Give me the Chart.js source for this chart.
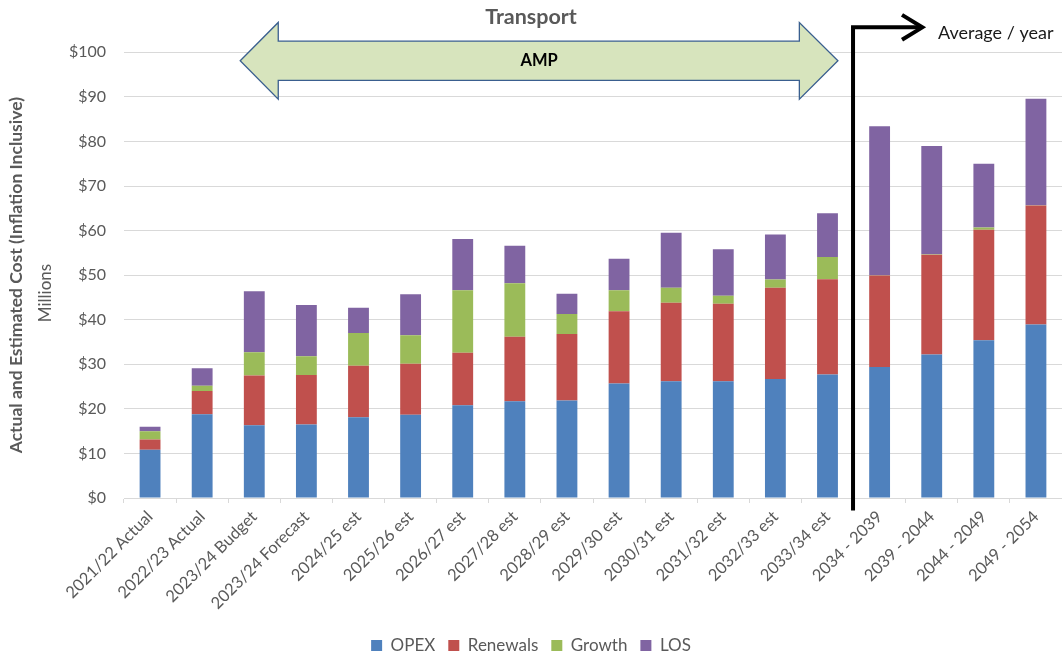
<!DOCTYPE html>
<html>
<head>
<meta charset="utf-8">
<script src="https://cdn.jsdelivr.net/npm/chart.js@4"></script>
<style>
  html, body { margin: 0; padding: 0; background: #ffffff; }
  #wrap { width: 1062px; height: 658px; position: relative; }
</style>
</head>
<body>
<div id="wrap"><canvas id="c" width="1062" height="658"></canvas></div>
<script>
const categories = [
  "2021/22 Actual", "2022/23 Actual", "2023/24 Budget", "2023/24 Forecast",
  "2024/25 est", "2025/26 est", "2026/27 est", "2027/28 est", "2028/29 est",
  "2029/30 est", "2030/31 est", "2031/32 est", "2032/33 est", "2033/34 est",
  "2034 - 2039", "2039 - 2044", "2044 - 2049", "2049 - 2054"
];
const opex     = [10.8, 18.8, 16.3, 16.5, 18.1, 18.7, 20.8, 21.7, 21.9, 25.7, 26.2, 26.2, 26.7, 27.7, 29.4, 32.2, 35.4, 38.9];
const renewals = [2.3, 5.2, 11.2, 11.1, 11.6, 11.4, 11.8, 14.5, 14.9, 16.2, 17.6, 17.4, 20.5, 21.4, 20.5, 22.4, 24.8, 26.7];
const growth   = [1.9, 1.2, 5.2, 4.2, 7.3, 6.4, 14.0, 12.0, 4.5, 4.7, 3.4, 1.8, 1.8, 5.0, 0.1, 0.1, 0.5, 0.1];
const los      = [1.0, 3.9, 13.7, 11.5, 5.7, 9.2, 11.5, 8.4, 4.5, 7.1, 12.3, 10.4, 10.1, 9.8, 33.4, 24.3, 14.3, 23.9];
const yTicks   = [0, 10, 20, 30, 40, 50, 60, 70, 80, 90, 100];

const FONT = "Lato, 'Open Sans', sans-serif";
const GREY = "#595959";

const annotations = {
  id: "annotations",
  afterDatasetsDraw(chart) {
    const ctx = chart.ctx;
    const x = chart.scales.x, y = chart.scales.y;
    const X = v => x.getPixelForValue(v);
    const Y = v => y.getPixelForValue(v);
    ctx.save();

    // Green double-headed AMP arrow
    const lt = X(1.73), lb = X(2.46), rb = X(12.46), rt = X(13.2);
    const yMid = Y(98.1), hTop = Y(106.7), hBot = Y(89.5), sTop = Y(102.5), sBot = Y(93.7);
    ctx.beginPath();
    ctx.moveTo(lt, yMid);
    ctx.lineTo(lb, hTop);
    ctx.lineTo(lb, sTop);
    ctx.lineTo(rb, sTop);
    ctx.lineTo(rb, hTop);
    ctx.lineTo(rt, yMid);
    ctx.lineTo(rb, hBot);
    ctx.lineTo(rb, sBot);
    ctx.lineTo(lb, sBot);
    ctx.lineTo(lb, hBot);
    ctx.closePath();
    ctx.fillStyle = "#d7e4bd";
    ctx.fill();
    ctx.lineWidth = 1.3;
    ctx.strokeStyle = "#3a5f8f";
    ctx.stroke();

    ctx.fillStyle = "#000000";
    ctx.font = "bold 16.5px " + FONT;
    ctx.textAlign = "center";
    ctx.textBaseline = "middle";
    ctx.fillText("AMP", (lt + rt) / 2, yMid);

    // Black bent arrow
    const vx = X(13.49), topY = Y(105.6), botY = Y(-2.8), tipX = X(14.82), chevX = X(14.43);
    ctx.beginPath();
    ctx.moveTo(vx, botY);
    ctx.lineTo(vx, topY);
    ctx.lineTo(tipX - 2, topY);
    ctx.strokeStyle = "#000000";
    ctx.lineWidth = 4;
    ctx.lineJoin = "miter";
    ctx.stroke();
    ctx.beginPath();
    ctx.moveTo(chevX, Y(108.4));
    ctx.lineTo(tipX, topY);
    ctx.lineTo(chevX, Y(102.8));
    ctx.lineWidth = 4;
    ctx.stroke();

    ctx.font = "18px " + FONT;
    ctx.textAlign = "left";
    ctx.textBaseline = "middle";
    ctx.fillStyle = "#1a1a1a";
    ctx.fillText("Average / year", 938, Y(104.2));

    // Secondary axis caption
    ctx.save();
    ctx.translate(46, 293);
    ctx.rotate(-Math.PI / 2);
    ctx.font = "17px " + FONT;
    ctx.fillStyle = GREY;
    ctx.textAlign = "center";
    ctx.textBaseline = "middle";
    ctx.fillText("Millions", 0, 0);
    ctx.restore();

    ctx.restore();
  }
};

const mk = (label, data, color) => ({
  label, data, backgroundColor: color, borderWidth: 0,
  categoryPercentage: 1.0, barPercentage: 0.4
});

new Chart(document.getElementById("c"), {
  type: "bar",
  data: {
    labels: categories,
    datasets: [
      mk("OPEX", opex, "#4f81bd"),
      mk("Renewals", renewals, "#c0504d"),
      mk("Growth", growth, "#9bbb59"),
      mk("LOS", los, "#8064a2")
    ]
  },
  options: {
    responsive: false,
    animation: false,
    layout: { padding: { left: 0, right: 0, top: 0, bottom: -6 } },
    plugins: {
      title: {
        display: true, text: "Transport", color: GREY,
        font: { family: FONT, size: 21.5, weight: "bold" },
        padding: { top: 4, bottom: 22.5 }
      },
      legend: {
        position: "bottom",
        labels: {
          color: GREY, boxWidth: 11, boxHeight: 11, padding: 13,
          font: { family: FONT, size: 17 }
        }
      },
      tooltip: { enabled: false }
    },
    scales: {
      x: {
        stacked: true,
        afterFit(s) { s.height = 126; },
        grid: { display: true, drawOnChartArea: false, drawTicks: true, tickLength: 5, color: "#d9d9d9", offset: true },
        border: { display: true, color: "#d9d9d9" },
        ticks: { color: GREY, minRotation: 45, maxRotation: 45, padding: 4, font: { family: FONT, size: 16.5 }, autoSkip: false }
      },
      y: {
        stacked: true, min: 0, max: 100,
        afterFit(s) { s.width = 124; },
        afterBuildTicks(s) { s.ticks = yTicks.map(v => ({ value: v })); },
        grid: { color: "#d9d9d9", drawTicks: false },
        border: { display: false },
        title: {
          display: true, text: "Actual and Estimated Cost (Inflation Inclusive)", color: GREY,
          font: { family: FONT, size: 17.5, weight: "bold" }, padding: { top: 6, bottom: 0 }
        },
        ticks: { color: GREY, padding: 18, font: { family: FONT, size: 16 }, callback: v => "$" + v }
      }
    }
  },
  plugins: [annotations]
});
</script>
</body>
</html>
